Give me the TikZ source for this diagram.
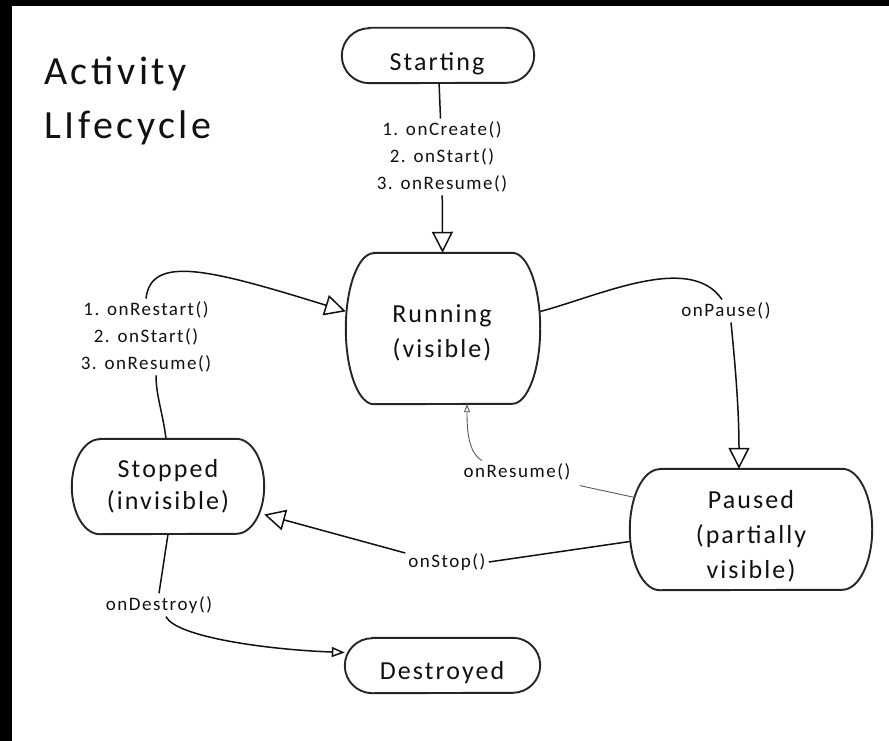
\documentclass[tikz,border=0pt]{standalone}
\usepackage{fontspec}
\setmainfont{Carlito}
\newfontfamily\handfont[LetterSpace=8]{Carlito}
\newfontfamily\titlefont[LetterSpace=9]{Carlito}
\usetikzlibrary{arrows.meta}
\definecolor{ink}{HTML}{111111}
\definecolor{edge}{HTML}{262626}
\definecolor{faint}{HTML}{5A5A5A}

% outline of a state: straight top and bottom, half-ellipse ends
\newcommand\statepill[3]{%
  \draw[stateline] ([xshift=#2]#1.north west) -- ([xshift=-#2]#1.north east)
    arc[start angle=90, end angle=-90, x radius=#2, y radius=#3]
    -- ([xshift=#2]#1.south west)
    arc[start angle=270, end angle=90, x radius=#2, y radius=#3] -- cycle;
}

\begin{document}
\begin{tikzpicture}[x=1pt, y=-1pt,
  statebox/.style={rectangle, draw=none, inner sep=0pt},
  stateline/.style={draw=edge, line width=1.9pt},
  statetext/.style={font=\handfont\fontsize{26}{35}\selectfont, align=center, text=ink, inner sep=0pt},
  titletext/.style={font=\titlefont\fontsize{40}{54}\selectfont, align=left, text=ink, inner sep=0pt},
  calllabel/.style={font=\handfont\fontsize{19}{27}\selectfont, align=center, text=ink, inner sep=3pt},
  flow/.style={draw=ink, line width=1.5pt},
  weakflow/.style={draw=faint, line width=0.9pt},
  bigtip/.style={-{Triangle[open, length=21pt, width=21pt]}},
  midtip/.style={-{Triangle[open, length=13pt, width=10pt]}},
  smalltip/.style={-{Triangle[open, length=8pt, width=6pt]}},
]
\useasboundingbox (0,0) rectangle (889,741);
\fill[white] (0,0) rectangle (889,741);
\fill[black] (0,0) rectangle (889,6);
\fill[black] (0,0) rectangle (12,741);

% title
\node[titletext, anchor=west] (title) at (44,101) {Activity\\LIfecycle};

% states
\node[statebox, minimum width=192pt, minimum height=55pt]  (start)  at (438,55.5)  {};
\node[statebox, minimum width=194pt, minimum height=151pt] (run)    at (443,328.5) {};
\node[statebox, minimum width=192pt, minimum height=95pt]  (stop)   at (168,486.5) {};
\node[statebox, minimum width=242pt, minimum height=121pt] (paused) at (751,529.5) {};
\node[statebox, minimum width=195pt, minimum height=55pt]  (dest)   at (442.5,665.5) {};

\statepill{start}{27.5pt}{27.5pt}
\statepill{run}{28pt}{75.5pt}
\statepill{stop}{28pt}{47.5pt}
\statepill{paused}{30pt}{60.5pt}
\statepill{dest}{27.5pt}{27.5pt}

\node[statetext] (starttxt)  at (437,64)  {Starting};
\node[statetext] (runtxt)    at (442,333) {Running\\(visible)};
\node[statetext] (stoptxt)   at (168,486) {Stopped\\[-3pt](invisible)};
\node[statetext] (pausedtxt) at (751,536) {Paused\\(partially\\visible)};
\node[statetext] (desttxt)   at (442,673) {Destroyed};

% callback labels
\node[calllabel] (create)  at (442,157) {1. onCreate()\\2. onStart()\\3. onResume()};
\node[calllabel] (restart) at (146,337) {1. onRestart()\\2. onStart()\\3. onResume()};
\node[calllabel] (pause)   at (726,311) {onPause()};
\node[calllabel] (resume)  at (517,472) {onResume()};
\node[calllabel] (stopcb)  at (447,562) {onStop()};
\node[calllabel] (destroy) at (159,605) {onDestroy()};

% transitions
\draw[flow] (start) -- (create);
\draw[flow, bigtip] (create) -- (run);

\draw[flow] ([yshift=17pt]run.east) .. controls +(60,-16) and +(-32,-47) .. ([xshift=-4pt]pause.north);
\draw[flow, bigtip] ([xshift=5pt]pause.south) .. controls +(4,40) and +(0,-60) .. ([xshift=-12pt]paused.north);

\draw[weakflow, shorten >=10pt] ([xshift=5pt,yshift=32pt]paused.west) -- (resume);
\draw[weakflow, smalltip] ([xshift=-35pt]resume.north) .. controls +(-14,-8) and +(0,25) .. ([xshift=24pt]run.south);

\draw[flow] ([yshift=-12pt]paused.west) -- (stopcb.east);
\draw[flow, bigtip] ([yshift=9pt]stopcb.west) -- ([yshift=-28pt]stop.east);

\draw[flow] ([xshift=-2pt]stop.north) .. controls +(-3,-25) and +(0,20) .. ([xshift=10pt]restart.south);
\draw[flow, bigtip] (restart.north) .. controls +(5,-45) and +(-133,-41) .. (run.170);

\draw[flow] (stop.south) -- (destroy.north);
\draw[flow, midtip] ([xshift=7pt]destroy.south) .. controls +(10,20) and +(-80,-3) .. ([yshift=13pt]dest.west);
\end{tikzpicture}
\end{document}
